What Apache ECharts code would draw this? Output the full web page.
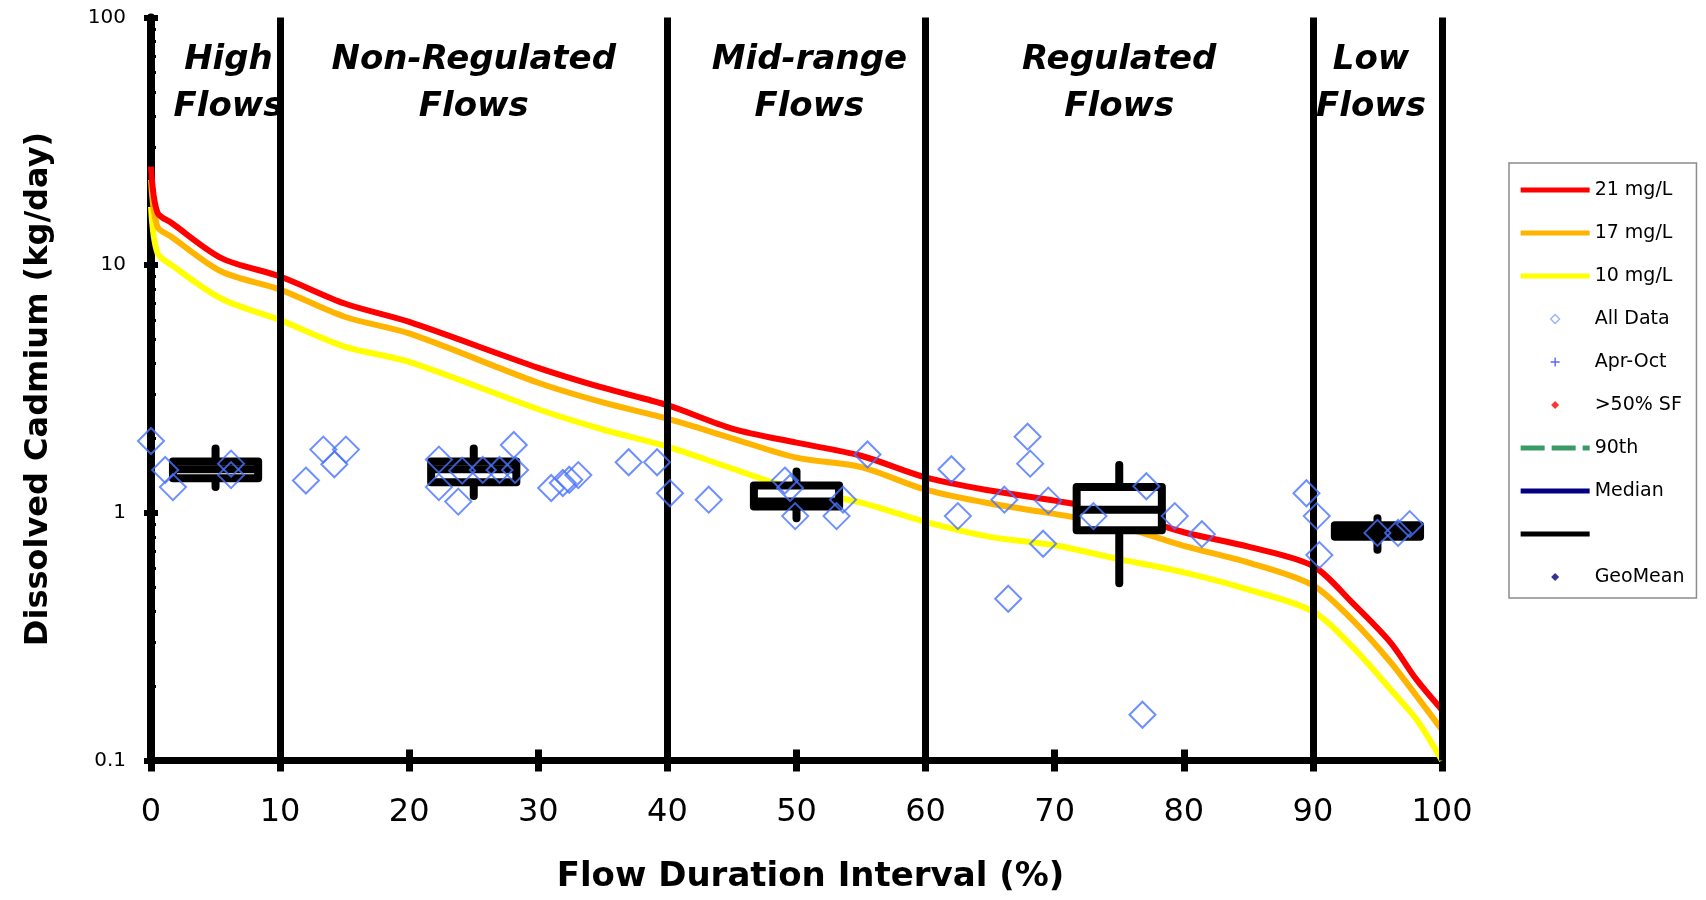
<!DOCTYPE html>
<html>
<head>
<meta charset="utf-8">
<script src="https://cdn.jsdelivr.net/npm/echarts@6/dist/echarts.min.js"></script>
<style>
html,body{margin:0;padding:0;background:#fff;}
#chart{width:1706px;height:900px;}
</style>
</head>
<body>
<div id="chart"></div>
<script>
// ---------- data ----------
var curveX   = [0, 0.5, 1.6, 5.5, 10, 15, 20, 30, 35, 40, 45, 50, 55, 60, 65, 70, 75, 80, 85, 90, 93, 96, 98, 100];
var red21    = [25.0, 16.3, 14.8, 10.65, 9.0, 7.0, 5.9, 3.85, 3.2, 2.72, 2.19, 1.92, 1.70, 1.39, 1.23, 1.12, 1.0, 0.835, 0.73, 0.61, 0.436, 0.30, 0.213, 0.16];
var orange17 = [22.1, 14.3, 13.0, 9.4, 7.97, 6.19, 5.3, 3.35, 2.79, 2.4, 2.0, 1.67, 1.53, 1.24, 1.09, 0.99, 0.885, 0.736, 0.63, 0.51, 0.372, 0.25, 0.183, 0.133];
var yellow10 = [17.2, 11.2, 10.0, 7.3, 6.0, 4.69, 4.07, 2.62, 2.17, 1.85, 1.51, 1.24, 1.10, 0.92, 0.80, 0.74, 0.65, 0.575, 0.49, 0.40, 0.29, 0.194, 0.147, 0.10];

var allDataX = [0, 1.1, 1.7, 6.2, 6.2, 12.0, 13.35, 14.2, 15.1, 22.3, 22.3, 23.8, 24.1, 25.7, 27.0, 28.1, 28.2, 31.0, 31.9, 32.4, 33.1, 37.0, 39.2, 40.2, 43.2, 49.1, 49.5, 49.9, 53.6, 53.1, 55.5, 62.0, 62.5, 66.1, 66.4, 67.9, 68.1, 69.5, 69.1, 73.0, 76.8, 77.1, 79.3, 81.4, 89.5, 90.3, 90.5, 95.0, 96.6, 97.5];
var allDataY = [1.95, 1.49, 1.27, 1.58, 1.42, 1.35, 1.80, 1.57, 1.80, 1.64, 1.27, 1.11, 1.48, 1.49, 1.49, 1.88, 1.49, 1.26, 1.32, 1.36, 1.42, 1.60, 1.60, 1.20, 1.13, 1.35, 1.26, 0.97, 1.13, 0.97, 1.72, 1.50, 0.97, 1.13, 0.45, 2.03, 1.58, 1.12, 0.75, 0.97, 0.153, 1.28, 0.97, 0.82, 1.20, 0.97, 0.675, 0.83, 0.83, 0.90];

var boxCenters = [5, 25, 50, 75, 95];
var boxLow     = [1.27, 1.17, 0.95, 0.52, 0.71];
var boxQ1      = [1.38, 1.33, 1.06, 0.85, 0.80];
var boxMedian  = [1.50, 1.50, 1.11, 1.03, 0.85];
var boxQ3      = [1.61, 1.61, 1.29, 1.27, 0.89];
var boxHigh    = [1.82, 1.82, 1.47, 1.56, 0.95];

var zoneBounds  = [10, 40, 60, 90, 100];
var zoneCenters = [6, 25, 51, 75, 94.5];
var zoneNames   = ['High\nFlows', 'Non-Regulated\nFlows', 'Mid-range\nFlows', 'Regulated\nFlows', 'Low\nFlows'];

var xTicks = [0, 10, 20, 30, 40, 50, 60, 70, 80, 90, 100];
var yMin = 0.1, yMax = 100;

// ---------- build ----------
function pairs(xs, ys){ return xs.map(function(x,i){ return [x, ys[i]]; }); }
var FONT = 'DejaVu Sans';
var BOX_HALF = 3.3;

var pad = 'M0,0L0,0M69,14L69,14';
var lineIcon = 'path://' + pad + 'M0,4.5L69,4.5L69,9.5L0,9.5Z';
var dashIcon = 'path://' + pad + 'M0,4.5L24,4.5L24,9.5L0,9.5ZM31,4.5L55,4.5L55,9.5L31,9.5ZM62,4.5L69,4.5L69,9.5L62,9.5Z';
var diamondIcon = 'path://' + pad + 'M34.5,2.5L39,7L34.5,11.5L30,7Z';
var plusIcon = 'path://' + pad + 'M33.8,2.5L35.2,2.5L35.2,6.3L39,6.3L39,7.7L35.2,7.7L35.2,11.5L33.8,11.5L33.8,7.7L30,7.7L30,6.3L33.8,6.3Z';
var smallDiamond = 'path://' + pad + 'M34.5,3L38.5,7L34.5,11L30.5,7Z';

var chart = echarts.init(document.getElementById('chart'), null, {renderer:'canvas'});

var option = {
  backgroundColor: '#fff',
  animation: false,
  grid: {left: 151, right: 264, top: 17.5, bottom: 139.5, containLabel: false},
  xAxis: [{
    type: 'value', min: 0, max: 100, interval: 10, position: 'bottom',
    name: 'Flow Duration Interval (%)', nameLocation: 'middle', nameGap: 100,
    nameTextStyle: {fontFamily: FONT, fontSize: 34, fontWeight: 'bold', color: '#000', padding: [0,0,0,28]},
    axisLine: {show: true, lineStyle: {color: '#000', width: 7}},
    axisTick: {show: true, length: 11, inside: false, lineStyle: {color: '#000', width: 7}},
    axisLabel: {show: true, margin: 36, fontFamily: FONT, fontSize: 32, color: '#000',
      formatter: function(v){ return xTicks.indexOf(v) >= 0 ? String(v) : ''; }},
    splitLine: {show: false}
  }, {
    type: 'value', min: 0, max: 100, interval: 10, position: 'bottom',
    axisLine: {show: false},
    axisTick: {show: true, length: 11, inside: true, lineStyle: {color: '#000', width: 7}},
    axisLabel: {show: false}, splitLine: {show: false}
  }],
  yAxis: [{
    type: 'log', logBase: 10, min: yMin, max: yMax, position: 'left',
    name: 'Dissolved Cadmium (kg/day)', nameLocation: 'middle', nameGap: 96,
    nameTextStyle: {fontFamily: FONT, fontSize: 32, fontWeight: 'bold', color: '#000'},
    axisLine: {show: true, lineStyle: {color: '#000', width: 8}},
    axisTick: {show: true, length: 7, inside: false, lineStyle: {color: '#000', width: 6}},
    axisLabel: {show: true, margin: 25, fontFamily: FONT, fontSize: 20, color: '#000',
      formatter: function(v){ return String(v); }},
    splitLine: {show: false}
  }, {
    type: 'log', logBase: 10, min: yMin, max: yMax, position: 'left',
    axisLine: {show: false},
    axisTick: {show: true, length: 7, inside: true, lineStyle: {color: '#000', width: 6}},
    minorTick: {show: true, splitNumber: 9, length: 5, lineStyle: {color: '#000', width: 3}},
    axisLabel: {show: false}, splitLine: {show: false}
  }],
  legend: {
    orient: 'vertical', left: 1509, top: 163, align: 'left',
    selectedMode: false,
    backgroundColor: '#fff', borderColor: '#8c8c8c', borderWidth: 1.5, borderRadius: 0,
    padding: [17, 12, 11, 11],
    itemWidth: 69, itemHeight: 14, itemGap: 23,
    textStyle: {fontFamily: FONT, fontSize: 19, color: '#000', lineHeight: 20},
    formatter: function(name){ return name === 'Box' ? '\u00a0' : name; },
    data: [
      {name: '21 mg/L', icon: lineIcon, itemStyle: {color: '#ff0000', borderWidth: 0}},
      {name: '17 mg/L', icon: lineIcon, itemStyle: {color: '#ffb400', borderWidth: 0}},
      {name: '10 mg/L', icon: lineIcon, itemStyle: {color: '#ffff00', borderWidth: 0}},
      {name: 'All Data', icon: diamondIcon, itemStyle: {color: 'rgba(255,255,255,0)', borderColor: '#7f9bff', borderWidth: 1.3}},
      {name: 'Apr-Oct', icon: plusIcon, itemStyle: {color: '#3040ff', borderWidth: 0}},
      {name: '>50% SF', icon: smallDiamond, itemStyle: {color: '#ff0000', borderWidth: 0}},
      {name: '90th', icon: dashIcon, itemStyle: {color: '#3a9a68', borderWidth: 0}},
      {name: 'Median', icon: lineIcon, itemStyle: {color: '#000080', borderWidth: 0}},
      {name: 'Box', icon: lineIcon, itemStyle: {color: '#000000', borderWidth: 0}},
      {name: 'GeoMean', icon: smallDiamond, itemStyle: {color: '#000080', borderWidth: 0}}
    ]
  },
  series: [
    {name: '10 mg/L', type: 'line', data: pairs(curveX, yellow10), showSymbol: false, symbol: 'none',
     smooth: 0.3, lineStyle: {color: '#ffff00', width: 6}, itemStyle: {color: '#ffff00'}, z: 2, silent: true},
    {name: '17 mg/L', type: 'line', data: pairs(curveX, orange17), showSymbol: false, symbol: 'none',
     smooth: 0.3, lineStyle: {color: '#ffb400', width: 6}, itemStyle: {color: '#ffb400'}, z: 2, silent: true},
    {name: '21 mg/L', type: 'line', data: pairs(curveX, red21), showSymbol: false, symbol: 'none',
     smooth: 0.3, lineStyle: {color: '#ff0000', width: 6}, itemStyle: {color: '#ff0000'}, z: 2, silent: true},
    {name: 'zones', type: 'line', data: [], z: 3, silent: true,
     markLine: {silent: true, symbol: ['none', 'none'], label: {show: false},
       lineStyle: {color: '#000', width: 7, type: 'solid'},
       data: zoneBounds.map(function(b){ return {xAxis: b}; })}},
    {name: 'Box', type: 'custom', z: 4, silent: true,
     itemStyle: {color: '#000'},
     data: boxCenters.map(function(c, i){ return [c, boxLow[i], boxQ1[i], boxMedian[i], boxQ3[i], boxHigh[i]]; }),
     encode: {x: 0, y: [1, 2, 3, 4, 5]},
     renderItem: function(params, api){
       var c = api.value(0);
       var pLo = api.coord([c, api.value(1)]);
       var pHi = api.coord([c, api.value(5)]);
       var pBL = api.coord([c - BOX_HALF, api.value(2)]);
       var pTR = api.coord([c + BOX_HALF, api.value(4)]);
       var pML = api.coord([c - BOX_HALF, api.value(3)]);
       var pMR = api.coord([c + BOX_HALF, api.value(3)]);
       var st = {stroke: '#000', lineWidth: 8, lineCap: 'round', lineJoin: 'round'};
       return {type: 'group', children: [
         {type: 'line', shape: {x1: pLo[0], y1: pLo[1], x2: pHi[0], y2: pHi[1]}, style: st},
         {type: 'rect', shape: {x: pBL[0], y: pTR[1], width: pTR[0] - pBL[0], height: pBL[1] - pTR[1]},
          style: {fill: '#fff', stroke: '#000', lineWidth: 8, lineJoin: 'round'}},
         {type: 'line', shape: {x1: pML[0], y1: pML[1], x2: pMR[0], y2: pMR[1]}, style: {stroke: '#000', lineWidth: 8, lineCap: 'butt'}}
       ]};
     }},
    {name: 'All Data', type: 'scatter', data: pairs(allDataX, allDataY), symbol: 'diamond', symbolSize: 26,
     itemStyle: {color: 'rgba(255,255,255,0)', borderColor: '#4a73ff', borderWidth: 2}, z: 5, silent: true},
    {name: 'Apr-Oct', type: 'scatter', data: [], symbol: 'path://M0,5L10,5M5,0L5,10', itemStyle: {color: '#3040ff'}},
    {name: '>50% SF', type: 'scatter', data: [], symbol: 'diamond', itemStyle: {color: '#ff0000'}},
    {name: '90th', type: 'line', data: [], lineStyle: {color: '#3a9a68', type: 'dashed', width: 5}, itemStyle: {color: '#3a9a68'}},
    {name: 'Median', type: 'line', data: [], lineStyle: {color: '#000080', width: 5}, itemStyle: {color: '#000080'}},
    {name: 'GeoMean', type: 'scatter', data: [], symbol: 'diamond', itemStyle: {color: '#000080'}},
    {name: 'zoneLabels', type: 'custom', z: 6, silent: true,
     data: zoneCenters.map(function(c){ return [c, yMax]; }),
     encode: {x: 0, y: 1},
     renderItem: function(params, api){
       var p = api.coord([api.value(0), api.value(1)]);
       return {type: 'text', x: p[0], y: p[1] + 66,
         style: {text: zoneNames[params.dataIndex], fontFamily: FONT, fontSize: 34, fontWeight: 'bold', fontStyle: 'italic',
                 fill: '#000', align: 'center', verticalAlign: 'middle', lineHeight: 47}};
     }}
  ]
};
chart.setOption(option);
</script>
</body>
</html>
